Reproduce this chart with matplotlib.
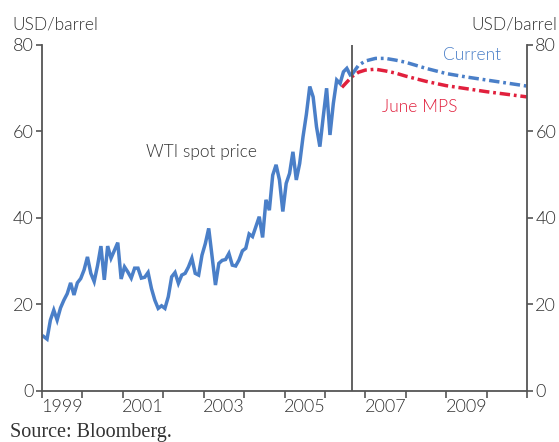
import matplotlib
matplotlib.use("Agg")
import matplotlib.pyplot as plt
import numpy as np

# WTI spot price, monthly from Jan 1999 (USD/barrel)
spot_start = 1999
spot_price = [
    12.6, 12.0, 16.4, 18.7, 16.4, 19.2, 21.0, 22.5, 25.0, 22.2, 25.0, 26.0,
    28.0, 31.0, 27.2, 25.3, 29.0, 33.5, 25.7, 33.5, 30.7, 32.5, 34.3, 25.9,
    28.7, 27.5, 26.1, 28.4, 28.4, 26.1, 26.3, 27.4, 23.7, 21.0, 19.1, 19.7,
    19.1, 21.8, 26.4, 27.4, 24.9, 26.8, 27.2, 28.7, 30.7, 27.2, 26.8, 31.4,
    34.1, 37.6, 31.1, 24.5, 29.5, 30.2, 30.4, 31.8, 29.1, 28.9, 30.3, 32.4,
    33.0, 36.3, 35.7, 38.0, 40.3, 35.5, 44.2, 41.8, 49.9, 52.3, 48.8, 41.5,
    48.0, 50.3, 55.3, 48.8, 52.6, 58.8, 64.0, 70.4, 68.0, 61.1, 56.5, 63.4,
    70.0, 59.2, 66.5, 71.9, 71.1, 73.8, 74.6, 73.1,
]

# futures-based paths (decimal years)
current_year = [2006.67, 2006.83, 2007.0, 2007.25, 2007.5, 2007.75, 2008.0, 2008.25,
                2008.5, 2008.75, 2009.0, 2009.5, 2010.0, 2010.5, 2011.0]
current_price = [73.2, 75.3, 76.3, 76.9, 76.9, 76.5, 76.0, 75.3,
                 74.6, 74.0, 73.4, 72.6, 71.9, 71.2, 70.5]

june_year = [2006.42, 2006.67, 2006.83, 2007.0, 2007.25, 2007.5, 2007.75, 2008.0,
             2008.25, 2008.5, 2009.0, 2009.5, 2010.0, 2010.5, 2011.0]
june_price = [70.2, 72.7, 73.7, 74.2, 74.4, 74.0, 73.5, 72.8,
              72.2, 71.6, 70.6, 69.9, 69.2, 68.6, 68.0]

split_year = 2006.67
year_labels = ["1999", "2001", "2003", "2005", "2007", "2009"]

blue = "#4a7fc8"
red = "#e1203d"
grey = "#555555"
text_col = "#333333"

plt.rcParams["font.family"] = ["Lato", "DejaVu Sans"]
plt.rcParams["font.weight"] = 300

spot_x = spot_start + (np.arange(len(spot_price)) + 0.5) / 12
dashes = (0, (3, 1.1, 0.8, 1.1))

fig = plt.figure(figsize=(5.59, 4.42), dpi=100)
ax = fig.add_axes([0.0751, 0.1154, 0.8677, 0.7828])

ax.plot(june_year, june_price, color=red, lw=2.5, linestyle=dashes)
ax.plot(spot_x, spot_price, color=blue, lw=2.5, solid_joinstyle="miter")
ax.plot(current_year, current_price, color=blue, lw=2.5, linestyle=dashes)
ax.axvline(split_year, color=grey, lw=1.3)

ax.set_xlim(1999, 2011)
ax.set_ylim(0, 80)

for s in ["left", "right", "bottom"]:
    ax.spines[s].set_color(grey)
    ax.spines[s].set_linewidth(1.3)
ax.spines["top"].set_visible(False)

ax.set_yticks([0, 20, 40, 60, 80])
ax.tick_params(axis="y", which="both", left=True, right=True, labelleft=True, labelright=True,
               direction="out", length=4, width=1.2, color=grey, labelsize=13, labelcolor=text_col, pad=2)

ax.set_xticks(np.arange(1999, 2012))
ax.set_xticklabels([])
ax.set_xticks([int(y) + 0.5 for y in year_labels], minor=True)
ax.set_xticklabels(year_labels, minor=True)
ax.tick_params(axis="x", which="major", direction="out", length=5, width=1.2, color=grey)
ax.tick_params(axis="x", which="minor", length=0, labelsize=13, labelcolor=text_col, pad=6)

ax.text(2001.57, 55.3, "WTI spot price", fontsize=12.5, color=text_col, ha="left", va="center")
ax.text(2008.93, 77.7, "Current", fontsize=12.5, color=blue, ha="left", va="center")
ax.text(2007.42, 65.7, "June MPS", fontsize=12.5, color=red, ha="left", va="center")

fig.text(12 / 559, 1 - 25 / 442, "USD/barrel", fontsize=12.5, color=text_col, ha="left", va="center")
fig.text(557 / 559, 1 - 25 / 442, "USD/barrel", fontsize=12.5, color=text_col, ha="right", va="center")
fig.text(10 / 559, 1 - 432 / 442, "Source: Bloomberg.", fontsize=14.5, color=text_col,
         ha="left", va="center", family="Liberation Serif", weight="normal")

fig.savefig("out.png", dpi=100)
